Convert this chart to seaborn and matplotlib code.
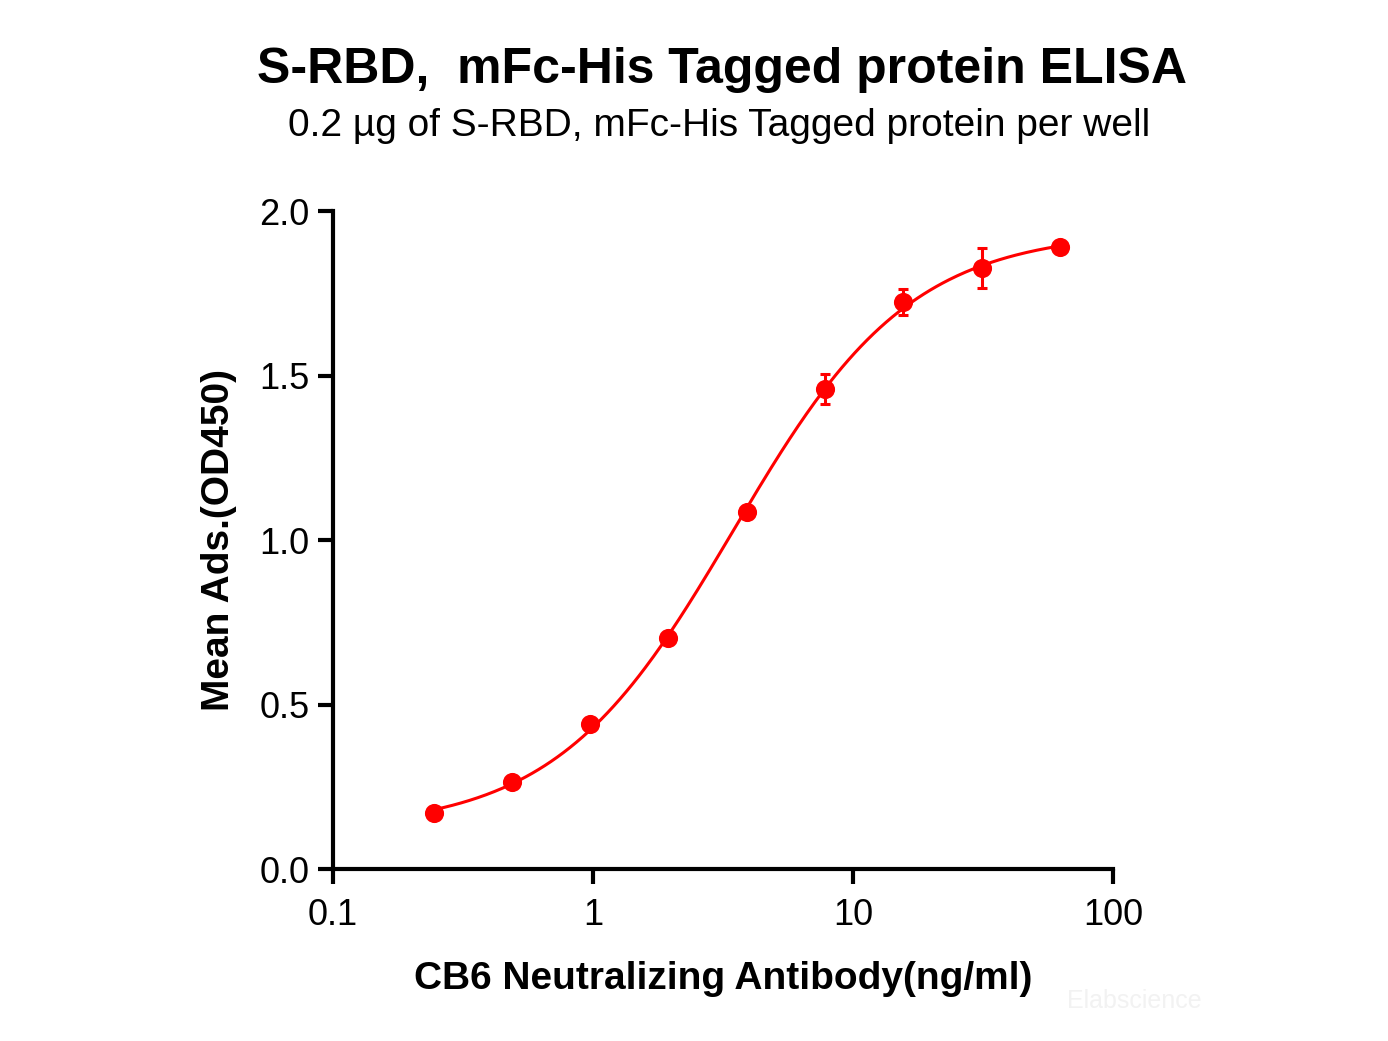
import numpy as np
import pandas as pd
import seaborn as sns
import matplotlib.pyplot as plt

# antibody dilution series and mean OD450 readings
conc = [0.244, 0.488, 0.977, 1.95, 3.9, 7.8, 15.6, 31.25, 62.5]
od450 = [0.170, 0.264, 0.441, 0.702, 1.085, 1.459, 1.723, 1.827, 1.891]
od_err = [0.0, 0.0, 0.0, 0.0, 0.0, 0.046, 0.040, 0.060, 0.0]

x_ticks = [0.1, 1, 10, 100]
x_tick_labels = ["0.1", "1", "10", "100"]
y_ticks = [0.0, 0.5, 1.0, 1.5, 2.0]
y_tick_labels = ["0.0", "0.5", "1.0", "1.5", "2.0"]

df = pd.DataFrame({"conc": conc, "od": od450, "err": od_err})

# 4PL fit: grid over EC50/hill, linear least squares for bottom/top
lx = np.log10(df["conc"].values)
y = df["od"].values
best = None
for log_ec50 in np.linspace(-0.5, 1.5, 201):
    for hill in np.linspace(0.5, 2.5, 201):
        f = 1.0 / (1.0 + 10 ** ((log_ec50 - lx) * hill))
        A = np.column_stack([1 - f, f])
        coef, res, _, _ = np.linalg.lstsq(A, y, rcond=None)
        sse = np.sum((A @ coef - y) ** 2)
        if best is None or sse < best[0]:
            best = (sse, log_ec50, hill, coef)
_, log_ec50, hill, (bottom, top) = best

xs = np.logspace(np.log10(conc[0]), np.log10(conc[-1]), 300)
fit = pd.DataFrame({"conc": xs,
                    "od": bottom + (top - bottom) / (1 + 10 ** ((log_ec50 - np.log10(xs)) * hill))})

sns.set_style("ticks")
plt.rcParams["font.family"] = ["Liberation Sans", "DejaVu Sans"]
plt.rcParams["text.color"] = "black"
plt.rcParams["axes.labelcolor"] = "black"

fig = plt.figure(figsize=(13.88, 10.41), dpi=100)
ax = fig.add_axes([0.2399, 0.1652, 0.562, 0.6321])

red = "#ff0000"
sns.lineplot(data=fit, x="conc", y="od", color=red, linewidth=2.2, ax=ax)
ax.errorbar(df["conc"], df["od"], yerr=df["err"], fmt="none", ecolor=red,
            elinewidth=2.2, capsize=3.5, capthick=2.2)
sns.scatterplot(data=df, x="conc", y="od", color=red, s=190, edgecolor=red,
                linewidth=0, ax=ax, zorder=5)

ax.set_xscale("log")
ax.set_xlim(0.1, 100)
ax.set_ylim(0, 2.0)
ax.set_xticks(x_ticks)
ax.set_xticklabels(x_tick_labels)
ax.minorticks_off()
ax.set_yticks(y_ticks)
ax.set_yticklabels(y_tick_labels)

for s in ["top", "right"]:
    ax.spines[s].set_visible(False)
for s in ["left", "bottom"]:
    ax.spines[s].set_linewidth(3)
    ax.spines[s].set_color("black")
ax.tick_params(axis="both", which="major", length=11, width=3, colors="black",
               labelsize=26)
ax.tick_params(axis="x", pad=10)
ax.tick_params(axis="y", pad=6)

ax.set_xlabel("CB6 Neutralizing Antibody(ng/ml)", fontsize=28, fontweight="bold",
              labelpad=20)
ax.set_ylabel("Mean Ads.(OD450)", fontsize=28, fontweight="bold", labelpad=16)

fig.text(0.52, 0.933, "S-RBD,  mFc-His Tagged protein ELISA", ha="center", va="center",
         fontsize=36, fontweight="bold")
fig.text(0.518, 0.879, "0.2 µg of S-RBD, mFc-His Tagged protein per well", ha="center",
         va="center", fontsize=28)
fig.text(0.817, 0.038, "Elabscience", ha="center", va="center", fontsize=18,
         color="#f2f2f2")

fig.savefig("out.png", dpi=100)
